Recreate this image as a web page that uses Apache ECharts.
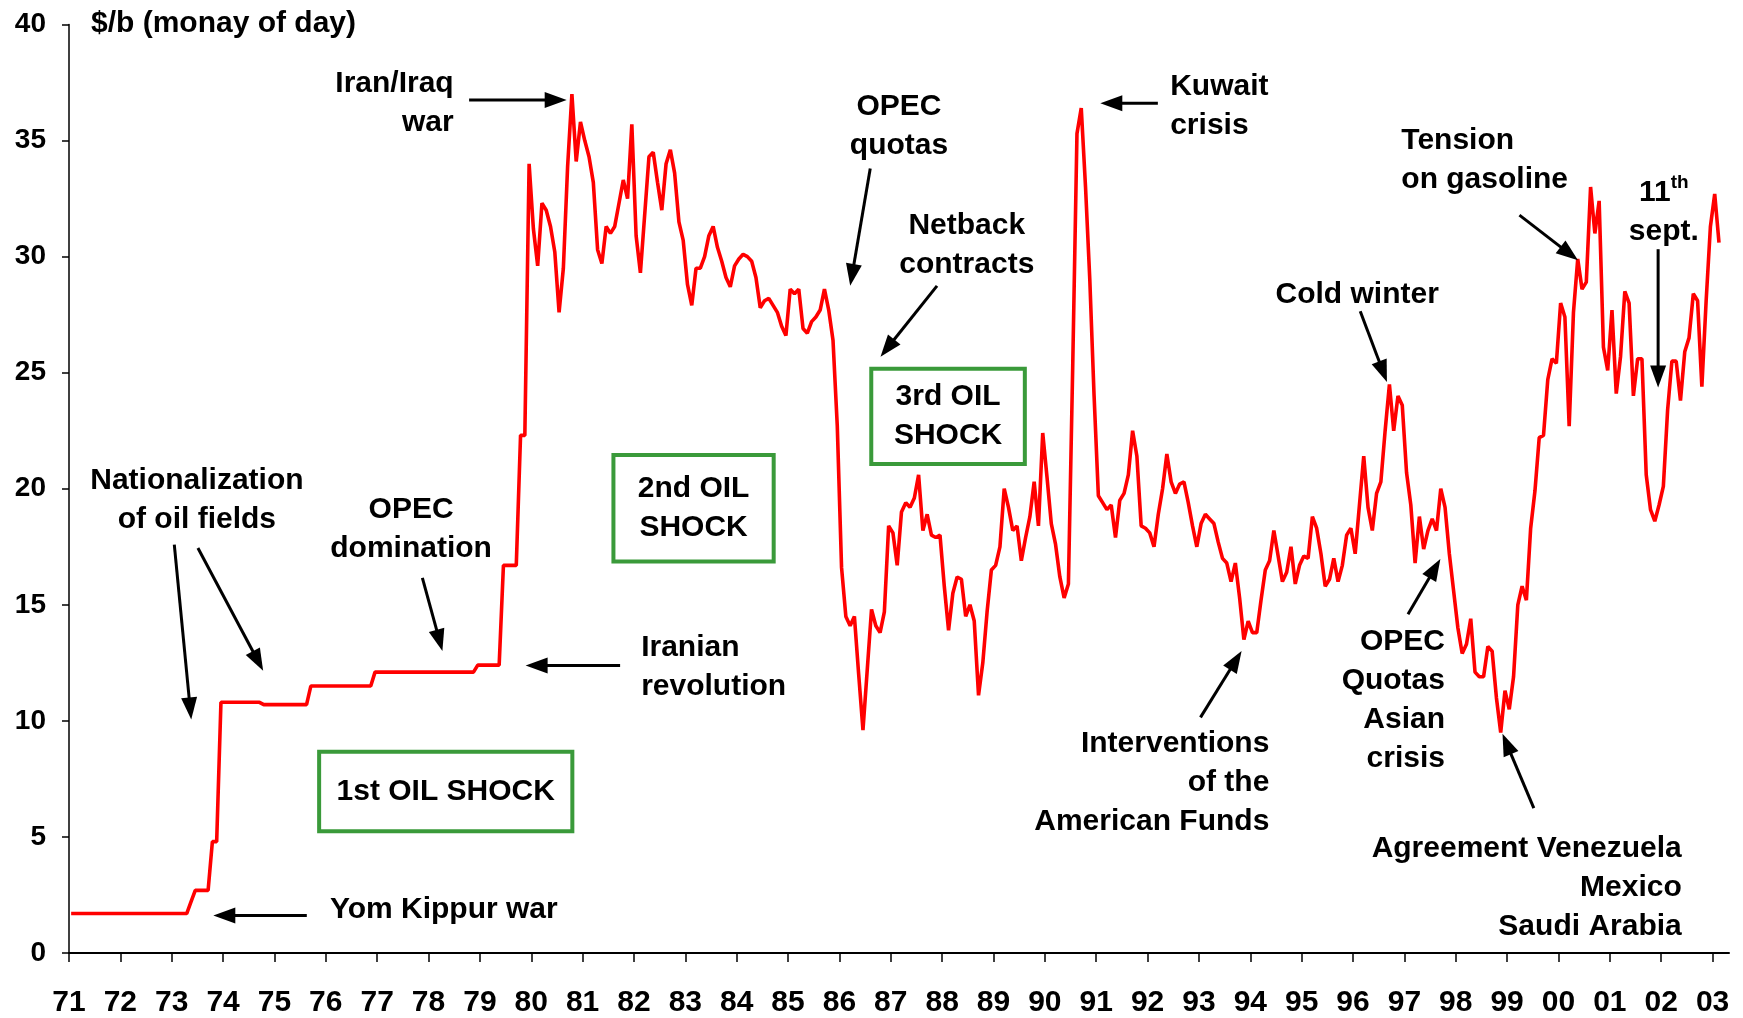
<!DOCTYPE html>
<html>
<head>
<meta charset="utf-8">
<title>Oil price 1971-2003</title>
<script src="https://cdn.jsdelivr.net/npm/echarts@6/dist/echarts.min.js"></script>
<style>
  html, body { margin: 0; padding: 0; background: #fff; }
  #main { width: 1743px; height: 1018px; }
</style>
</head>
<body>
<div id="main"></div>
<script>
// monthly prices, $/b money of the day, from January 1971
const startYear = 1971;

const price1970s = [
  1.7, 1.7, 1.7, 1.7, 1.7, 1.7, 1.7, 1.7, 1.7, 1.7, 1.7, 1.7,          // 71
  1.7, 1.7, 1.7, 1.7, 1.7, 1.7, 1.7, 1.7, 1.7, 1.7, 1.7, 1.7,          // 72
  1.7, 1.7, 1.7, 1.7, 2.2, 2.7, 2.7, 2.7, 2.7, 4.8, 4.8, 10.8,         // 73
  10.8, 10.8, 10.8, 10.8, 10.8, 10.8, 10.8, 10.8, 10.8, 10.7, 10.7, 10.7, // 74
  10.7, 10.7, 10.7, 10.7, 10.7, 10.7, 10.7, 10.7, 11.5, 11.5, 11.5, 11.5, // 75
  11.5, 11.5, 11.5, 11.5, 11.5, 11.5, 11.5, 11.5, 11.5, 11.5, 11.5, 12.1, // 76
  12.1, 12.1, 12.1, 12.1, 12.1, 12.1, 12.1, 12.1, 12.1, 12.1, 12.1, 12.1, // 77
  12.1, 12.1, 12.1, 12.1, 12.1, 12.1, 12.1, 12.1, 12.1, 12.1, 12.1, 12.4, // 78
  12.4, 12.4, 12.4, 12.4, 12.4, 16.7, 16.7, 16.7, 16.7, 22.3, 22.3, 34.0  // 79
];
const price1980s = [
  31.2, 29.6, 32.3, 32.0, 31.3, 30.2, 27.6, 29.5, 33.9, 37.0, 34.1, 35.8, // 80
  35.0, 34.3, 33.2, 30.3, 29.7, 31.3, 31.0, 31.3, 32.3, 33.3, 32.5, 35.7, // 81
  30.9, 29.3, 31.8, 34.3, 34.5, 33.2, 32.0, 34.0, 34.6, 33.6, 31.5, 30.7, // 82
  28.8, 27.9, 29.5, 29.5, 30.0, 30.9, 31.3, 30.4, 29.8, 29.1, 28.7, 29.6, // 83
  29.9, 30.1, 30.0, 29.8, 29.1, 27.8, 28.1, 28.2, 27.9, 27.6, 27.0, 26.6, // 84
  28.6, 28.4, 28.6, 26.9, 26.7, 27.2, 27.4, 27.7, 28.6, 27.7, 26.4, 22.7, // 85
  16.6, 14.5, 14.1, 14.5, 12.0, 9.6, 12.2, 14.8, 14.1, 13.8, 14.7, 18.4,  // 86
  18.1, 16.7, 19.0, 19.4, 19.2, 19.6, 20.6, 18.2, 18.9, 18.0, 17.9, 18.0, // 87
  15.8, 13.9, 15.5, 16.2, 16.1, 14.5, 15.0, 14.3, 11.1, 12.5, 14.7, 16.5, // 88
  16.7, 17.5, 20.0, 19.2, 18.2, 18.4, 16.9, 17.9, 18.8, 20.3, 18.4, 22.4  // 89
];
const price1990s = [
  20.5, 18.5, 17.6, 16.2, 15.3, 15.9, 25.2, 35.3, 36.4, 33.0, 29.0, 24.0, // 90
  19.7, 19.4, 19.1, 19.3, 17.9, 19.5, 19.8, 20.6, 22.5, 21.4, 18.4, 18.3, // 91
  18.1, 17.5, 18.9, 20.0, 21.5, 20.3, 19.8, 20.2, 20.3, 19.4, 18.4, 17.5, // 92
  18.5, 18.9, 18.7, 18.5, 17.7, 17.0, 16.8, 16.0, 16.8, 15.3, 13.5, 14.3, // 93
  13.8, 13.8, 15.2, 16.5, 16.9, 18.2, 17.1, 16.0, 16.4, 17.5, 15.9, 16.7, // 94
  17.1, 17.0, 18.8, 18.3, 17.2, 15.8, 16.1, 17.0, 16.0, 16.7, 18.0, 18.3, // 95
  17.2, 19.3, 21.4, 19.2, 18.2, 19.8, 20.3, 22.5, 24.5, 22.5, 24.0, 23.6, // 96
  20.7, 19.3, 16.8, 18.8, 17.4, 18.2, 18.7, 18.2, 20.0, 19.2, 17.2, 15.6, // 97
  14.0, 12.9, 13.3, 14.4, 12.1, 11.9, 11.9, 13.2, 13.0, 11.0, 9.5, 11.3,  // 98
  10.5, 11.9, 15.0, 15.8, 15.2, 18.3, 19.9, 22.2, 22.3, 24.7, 25.6, 25.4  // 99
];
const price2000s = [
  28.0, 27.4, 22.7, 27.6, 29.9, 28.6, 28.9, 33.0, 31.0, 32.4, 26.1, 25.1, // 00
  27.7, 24.1, 25.7, 28.5, 28.0, 24.0, 25.6, 25.6, 20.6, 19.1, 18.6, 19.3, // 01
  20.1, 23.4, 25.5, 25.5, 23.8, 25.9, 26.5, 28.4, 28.1, 24.4, 28.1, 31.3, // 02
  32.7, 30.6                                                              // 03
];

const yearTicks = [1971, 1972, 1973, 1974, 1975, 1976, 1977, 1978, 1979, 1980,
  1981, 1982, 1983, 1984, 1985, 1986, 1987, 1988, 1989, 1990, 1991, 1992,
  1993, 1994, 1995, 1996, 1997, 1998, 1999, 2000, 2001, 2002, 2003];

// annotations, anchored in data coordinates [year, $/b]
const notes = [
  { text: 'Iran/Iraq\nwar', at: [1978.49, 36.6], align: 'right' },
  { text: 'Nationalization\nof oil fields', at: [1973.49, 19.5], align: 'center' },
  { text: 'OPEC\ndomination', at: [1977.66, 18.27], align: 'center' },
  { text: 'Iranian\nrevolution', at: [1982.14, 12.32], align: 'left' },
  { text: 'Yom Kippur war', at: [1976.08, 1.86], align: 'left' },
  { text: 'OPEC\nquotas', at: [1987.16, 35.63], align: 'center' },
  { text: 'Netback\ncontracts', at: [1988.48, 30.48], align: 'center' },
  { text: 'Kuwait\ncrisis', at: [1992.44, 36.46], align: 'left' },
  { text: 'Tension\non gasoline', at: [1996.94, 34.15], align: 'left' },
  { text: '{b|11}{s|th}\n{b|sept.}', at: [2002.05, 31.9], align: 'center' },
  { text: 'Cold winter', at: [1996.08, 28.36], align: 'center' },
  { text: 'OPEC\nQuotas\nAsian\ncrisis', at: [1997.79, 10.89], align: 'right' },
  { text: 'Interventions\nof the\nAmerican Funds', at: [1994.37, 7.34], align: 'right' },
  { text: 'Agreement Venezuela\nMexico\nSaudi Arabia', at: [2002.40, 2.81], align: 'right' }
];

const arrows = [
  [[1978.79, 36.75], [1980.69, 36.75]],
  [[1973.05, 17.59], [1973.38, 10.06]],
  [[1973.51, 17.45], [1974.78, 12.16]],
  [[1977.88, 16.16], [1978.27, 13.01]],
  [[1981.73, 12.39], [1979.89, 12.39]],
  [[1975.63, 1.62], [1973.81, 1.62]],
  [[1986.60, 33.80], [1986.21, 28.74]],
  [[1987.90, 28.74], [1986.80, 25.69]],
  [[1992.20, 36.61], [1991.08, 36.61]],
  [[1999.24, 31.79], [2000.38, 29.84]],
  [[2001.94, 30.32], [2001.94, 24.36]],
  [[1996.14, 27.65], [1996.66, 24.60]],
  [[1997.07, 14.59], [1997.70, 16.97]],
  [[1993.03, 10.15], [1993.83, 13.01]],
  [[1999.52, 6.24], [1998.91, 9.44]]
];

const boxes = [
  { text: '1st OIL SHOCK', from: [1975.87, 8.67], to: [1980.80, 5.24] },
  { text: '2nd OIL\nSHOCK', from: [1981.60, 21.45], to: [1984.72, 16.87] },
  { text: '3rd OIL\nSHOCK', from: [1986.62, 25.17], to: [1989.61, 21.07] }
];

const prices = price1970s.concat(price1980s, price1990s, price2000s);
const seriesData = prices.map((v, i) => [startYear + (i + 0.5) / 12, v]);

const FONT = 'Liberation Sans, Arial, sans-serif';

const chart = echarts.init(document.getElementById('main'), null, { renderer: 'canvas' });

chart.setOption({
  animation: false,
  backgroundColor: '#ffffff',
  grid: { left: 69, right: 14, top: 24.5, bottom: 61 },
  xAxis: {
    type: 'value',
    min: 1971,
    max: 2003.32,
    splitLine: { show: false },
    axisLine: { show: true, onZero: false, lineStyle: { color: '#000', width: 2 } },
    axisTick: { show: true, customValues: yearTicks, length: 9, lineStyle: { color: '#000', width: 1.5 } },
    axisLabel: {
      customValues: yearTicks,
      formatter: v => String(v).slice(2),
      color: '#000', fontFamily: FONT, fontWeight: 'bold', fontSize: 30, margin: 35
    }
  },
  yAxis: {
    type: 'value',
    min: 0,
    max: 40,
    interval: 5,
    splitLine: { show: false },
    axisLine: { show: true, lineStyle: { color: '#000', width: 1.5 } },
    axisTick: { show: true, length: 7, lineStyle: { color: '#000', width: 1.5 } },
    axisLabel: { color: '#000', fontFamily: FONT, fontWeight: 'bold', fontSize: 28, margin: 23 }
  },
  series: [{
    type: 'line',
    data: seriesData,
    showSymbol: false,
    symbol: 'none',
    lineStyle: { color: '#ff0000', width: 3.6 },
    z: 3
  }]
});

// annotation layer, positioned through the chart's own coordinate system
const toPx = p => chart.convertToPixel({ gridIndex: 0 }, p);
const textStyle = {
  fill: '#000', fontFamily: FONT, fontWeight: 'bold', fontSize: 30, lineHeight: 39,
  textVerticalAlign: 'middle'
};
const graphics = [];

graphics.push({
  type: 'text', left: 91, top: 4,
  style: Object.assign({}, textStyle, { text: '$/b (monay of day)', textVerticalAlign: 'top' })
});

notes.forEach(n => {
  const p = toPx(n.at);
  graphics.push({
    type: 'text', x: p[0], y: p[1], z: 10,
    style: Object.assign({}, textStyle, {
      text: n.text, textAlign: n.align,
      rich: {
        b: { fontFamily: FONT, fontWeight: 'bold', fontSize: 30, lineHeight: 39 },
        s: { fontFamily: FONT, fontWeight: 'bold', fontSize: 19, lineHeight: 19, verticalAlign: 'top' }
      }
    })
  });
});

arrows.forEach(a => {
  const p1 = toPx(a[0]);
  const p2 = toPx(a[1]);
  const dx = p2[0] - p1[0], dy = p2[1] - p1[1];
  const len = Math.sqrt(dx * dx + dy * dy);
  const ux = dx / len, uy = dy / len;
  const head = 22, half = 8;
  const bx = p2[0] - ux * head, by = p2[1] - uy * head;
  graphics.push({
    type: 'line', z: 10,
    shape: { x1: p1[0], y1: p1[1], x2: bx + ux * 2, y2: by + uy * 2 },
    style: { stroke: '#000', lineWidth: 3 }
  });
  graphics.push({
    type: 'polygon', z: 10,
    shape: { points: [[p2[0], p2[1]], [bx - uy * half, by + ux * half], [bx + uy * half, by - ux * half]] },
    style: { fill: '#000' }
  });
});

boxes.forEach(b => {
  const p1 = toPx(b.from);
  const p2 = toPx(b.to);
  graphics.push({
    type: 'rect', z: 10,
    shape: { x: p1[0], y: p1[1], width: p2[0] - p1[0], height: p2[1] - p1[1] },
    style: { fill: '#fff', stroke: '#3a9a3a', lineWidth: 4 }
  });
  graphics.push({
    type: 'text', z: 11,
    x: (p1[0] + p2[0]) / 2, y: (p1[1] + p2[1]) / 2,
    style: Object.assign({}, textStyle, { text: b.text, textAlign: 'center' })
  });
});

chart.setOption({ graphic: graphics });
</script>
</body>
</html>
